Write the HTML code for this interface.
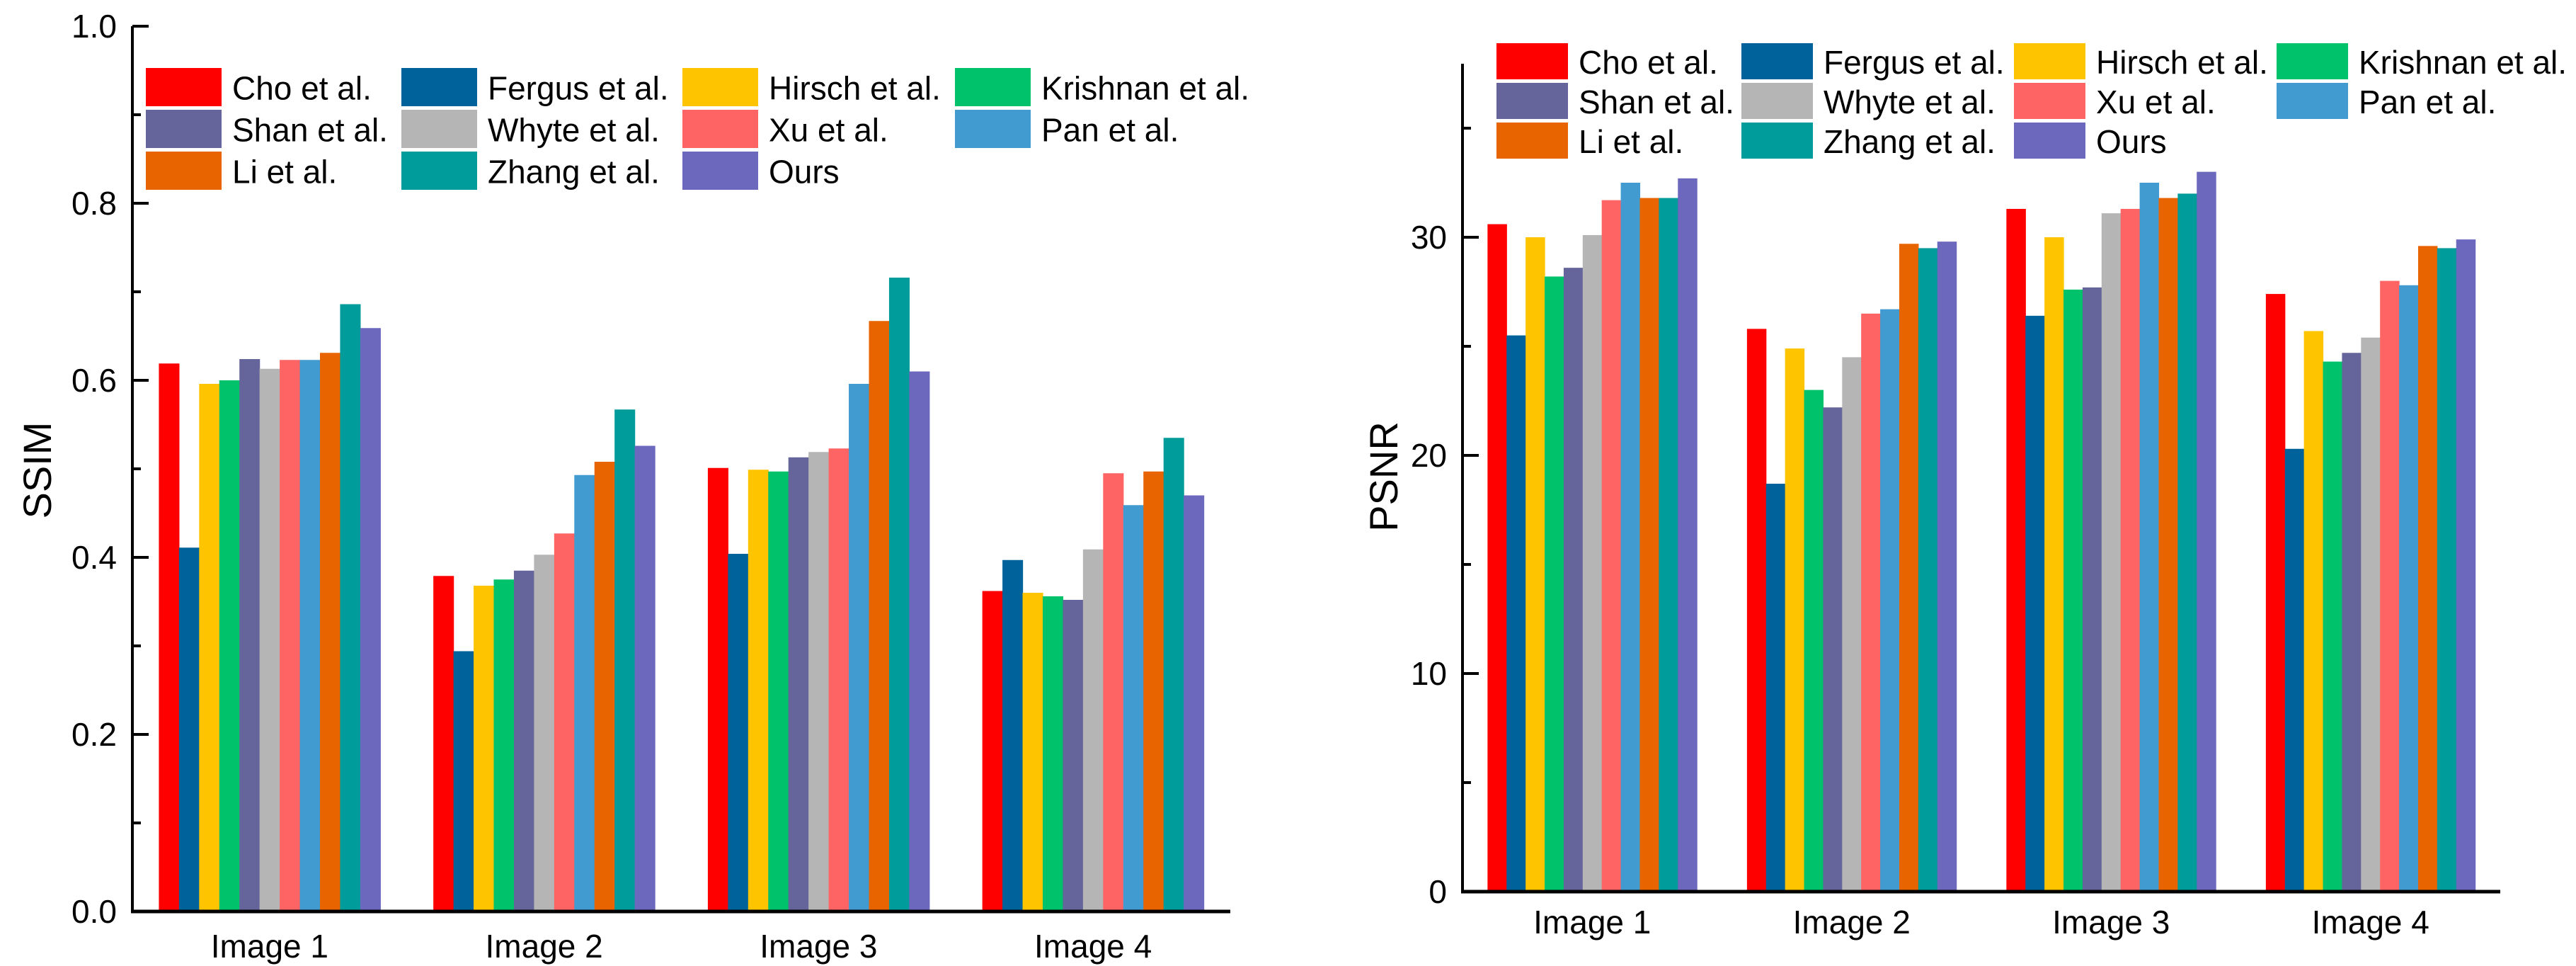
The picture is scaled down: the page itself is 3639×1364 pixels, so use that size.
<!DOCTYPE html>
<html><head><meta charset="utf-8"><style>
html,body{margin:0;padding:0;background:#fff}
svg{display:block;font-family:"Liberation Sans",sans-serif}
</style></head><body>
<svg id="chart" width="3639" height="1364" viewBox="0 0 3639 1364">
<g id="left"></g>
<g id="right"></g>
</svg>
<script>
const categories = ["Image 1","Image 2","Image 3","Image 4"];
const methods = ["Cho et al.","Fergus et al.","Hirsch et al.","Krishnan et al.","Shan et al.","Whyte et al.","Xu et al.","Pan et al.","Li et al.","Zhang et al.","Ours"];
const colors = ["#ff0000","#00629b","#ffc400","#00c26a","#65659b","#b5b5b5","#ff6464","#419bd1","#e86400","#009b9b","#6c68be"];
// SSIM values per method, across Image 1..4
const ssimCho = [0.619,0.379,0.501,0.362];
const ssimFergus = [0.411,0.294,0.404,0.397];
const ssimHirsch = [0.596,0.368,0.499,0.360];
const ssimKrishnan = [0.600,0.375,0.497,0.356];
const ssimShan = [0.624,0.385,0.513,0.352];
const ssimWhyte = [0.613,0.403,0.519,0.409];
const ssimXu = [0.623,0.427,0.523,0.495];
const ssimPan = [0.623,0.493,0.596,0.459];
const ssimLi = [0.631,0.508,0.667,0.497];
const ssimZhang = [0.686,0.567,0.716,0.535];
const ssimOurs = [0.659,0.526,0.610,0.470];
// PSNR values
const psnrCho = [30.6,25.8,31.3,27.4];
const psnrFergus = [25.5,18.7,26.4,20.3];
const psnrHirsch = [30.0,24.9,30.0,25.7];
const psnrKrishnan = [28.2,23.0,27.6,24.3];
const psnrShan = [28.6,22.2,27.7,24.7];
const psnrWhyte = [30.1,24.5,31.1,25.4];
const psnrXu = [31.7,26.5,31.3,28.0];
const psnrPan = [32.5,26.7,32.5,27.8];
const psnrLi = [31.8,29.7,31.8,29.6];
const psnrZhang = [31.8,29.5,32.0,29.5];
const psnrOurs = [32.7,29.8,33.0,29.9];
const ssimTicks = ["0.0","0.2","0.4","0.6","0.8","1.0"];
const psnrTicks = ["0","10","20","30"];

const ssimSeries = [ssimCho,ssimFergus,ssimHirsch,ssimKrishnan,ssimShan,ssimWhyte,ssimXu,ssimPan,ssimLi,ssimZhang,ssimOurs];
const psnrSeries = [psnrCho,psnrFergus,psnrHirsch,psnrKrishnan,psnrShan,psnrWhyte,psnrXu,psnrPan,psnrLi,psnrZhang,psnrOurs];
const NS = "http://www.w3.org/2000/svg";
function mk(parent, tag, attrs, text){
  const e = document.createElementNS(NS, tag);
  for (const k in attrs) e.setAttribute(k, attrs[k]);
  if (text !== undefined) e.textContent = text;
  parent.appendChild(e);
  return e;
}
function drawChart(g, cfg){
  const yScale = v => cfg.y0 - (v - cfg.vmin) / (cfg.vmax - cfg.vmin) * (cfg.y0 - cfg.y1);
  const bandW = (cfg.xEnd - cfg.xAxis) / categories.length;
  const groupW = bandW * 0.807;
  const barW = groupW / methods.length;
  const xBand = i => cfg.xAxis + bandW * i + bandW / 2;
  // bars
  cfg.series.forEach((vals, s) => {
    vals.forEach((v, i) => {
      const x = xBand(i) - groupW / 2 + s * barW;
      const y = yScale(v);
      const r = mk(g, "rect", {x: x, y: y, width: barW + 0.6, height: cfg.y0 - y, fill: colors[s]});
      
      
    });
  });
  // axes
  const ya = mk(g, "line", {x1: cfg.xAxis, y1: cfg.axisTop, x2: cfg.xAxis, y2: cfg.y0 + 2, stroke: "#000", "stroke-width": 4});
  
  
  const xa = mk(g, "line", {x1: cfg.xAxis - 2, y1: cfg.y0, x2: cfg.xEnd, y2: cfg.y0, stroke: "#000", "stroke-width": 5});
  
  
  // ticks
  cfg.ticks.forEach(t => {
    const v = parseFloat(t);
    const y = yScale(v);
    if (v !== cfg.vmin) mk(g, "line", {x1: cfg.xAxis, y1: y, x2: cfg.xAxis + 23, y2: y, stroke: "#000", "stroke-width": 4});
    const lbl = mk(g, "text", {x: cfg.xAxis - 22, y: y + 16, "text-anchor": "end", "font-size": 46}, t);
    
    
  });
  for (let v = cfg.vmin + cfg.minor; v <= cfg.minorMax + 1e-9; v += cfg.minor) {
    if (cfg.ticks.some(t => Math.abs(parseFloat(t) - v) < 1e-6)) continue;
    const y = yScale(v);
    mk(g, "line", {x1: cfg.xAxis, y1: y, x2: cfg.xAxis + 12, y2: y, stroke: "#000", "stroke-width": 4});
  }
  // category labels
  categories.forEach((c, i) => {
    const t = mk(g, "text", {x: xBand(i), y: cfg.catY, "text-anchor": "middle", "font-size": 46}, c);
    
    
  });
  // y title
  const tt = mk(g, "text", {x: cfg.titleX, y: cfg.titleY, "text-anchor": "middle", "font-size": 56, transform: "rotate(-90 " + cfg.titleX + " " + cfg.titleY + ")"}, cfg.title);
  
  
  // legend
  const lg = mk(g, "g", {});
  
  
  methods.forEach((m, s) => {
    const col = s % 4, row = Math.floor(s / 4);
    const x = cfg.legCols[col], y = cfg.legY + row * cfg.legStep;
    const e = mk(lg, "g", {});
    
    
    mk(e, "rect", {x: x, y: y, width: cfg.swW, height: cfg.legStep - 5, fill: colors[s]});
    mk(e, "text", {x: x + cfg.swW + 15, y: y + cfg.legStep / 2 + 15, "font-size": 46}, m);
  });
}
drawChart(document.getElementById("left"), {
  key: "ssim", series: ssimSeries, vmin: 0, vmax: 1, y0: 1287, y1: 37, axisTop: 37,
  xAxis: 187, xEnd: 1738, ticks: ssimTicks, minor: 0.1, minorMax: 0.95, catY: 1352,
  title: "SSIM", titleX: 72, titleY: 664,
  legCols: [206, 567, 964, 1349], legY: 96, legStep: 59, swW: 107
});
drawChart(document.getElementById("right"), {
  key: "psnr", series: psnrSeries, vmin: 0, vmax: 10, y0: 1259, y1: 951, axisTop: 90,
  xAxis: 2066, xEnd: 3532, ticks: psnrTicks, minor: 5, minorMax: 35, catY: 1318,
  title: "PSNR", titleX: 1974, titleY: 673,
  legCols: [2114, 2460, 2845, 3216], legY: 61, legStep: 56, swW: 101
});
</script>
</body></html>
